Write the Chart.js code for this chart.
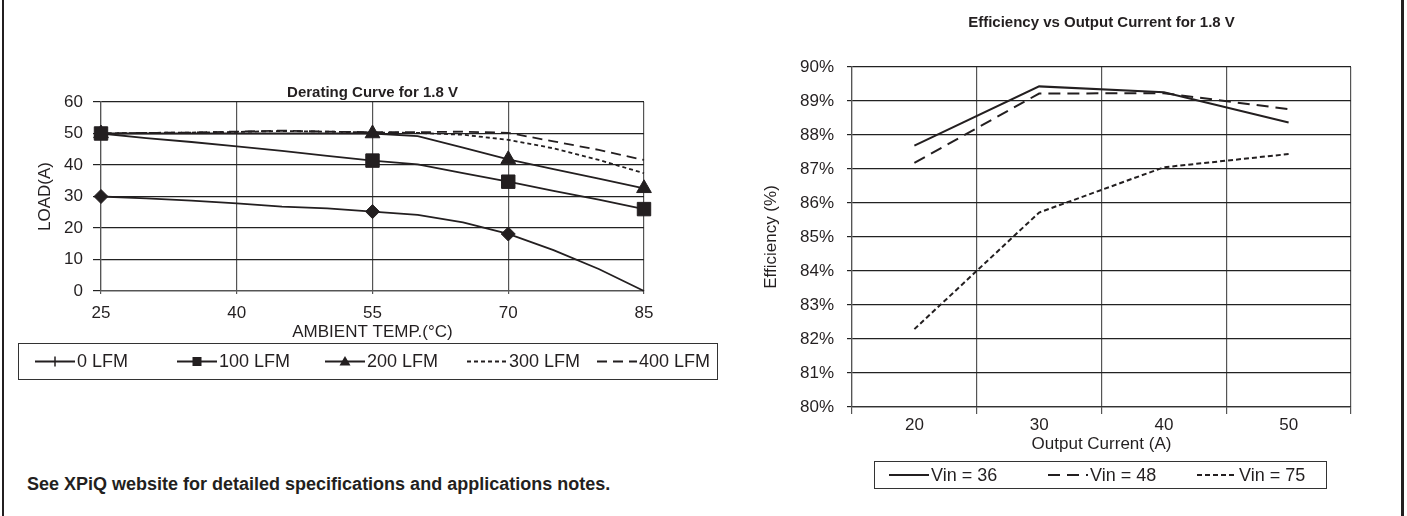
<!DOCTYPE html>
<html>
<head>
<meta charset="utf-8">
<title>Derating / Efficiency 1.8 V</title>
<script src="https://cdn.jsdelivr.net/npm/chart.js"></script>
<style>
  html, body { margin: 0; padding: 0; background: #fff; }
  body { width: 1407px; height: 516px; position: relative; overflow: hidden;
         font-family: "Liberation Sans", Arial, sans-serif; color: #231f20; }
  .rule { position: absolute; top: 0; height: 516px; background: #231f20; }
  #derating { position: absolute; left: 0; top: 0; }
  #efficiency { position: absolute; left: 745px; top: 0; }
  .note { position: absolute; left: 27px; top: 474px; font-weight: bold; font-size: 18px; }
</style>
</head>
<body>
<div class="rule" style="left:2px;width:2px"></div>
<div class="rule" style="left:1401px;width:3px"></div>
<canvas id="derating" width="745" height="400"></canvas>
<canvas id="efficiency" width="662" height="516"></canvas>
<div class="note">See XPiQ website for detailed specifications and applications notes.</div>

<script>
// --- derating curve data (load in A vs ambient temp in °C)
const tempsC = [25, 30, 35, 40, 45, 50, 55, 60, 65, 70, 75, 80, 85];
const lfm0   = [30, 29.4, 28.7, 27.8, 26.8, 26.2, 25.2, 24.2, 21.8, 18.1, 13, 7, 0];
const lfm100 = [50, 48.5, 47.3, 45.9, 44.5, 42.9, 41.4, 40.2, 37.4, 34.7, 31.8, 29, 26];
const lfm200 = [50, 50, 50, 50, 50, 50, 50, 49.2, 45.5, 41.8, 38.7, 35.7, 32.6];
const lfm300 = [50, 50.2, 50.3, 50.5, 50.8, 50.6, 50.3, 50.2, 49.6, 48, 45.3, 41.6, 37.4];
const lfm400 = [50, 50.2, 50.3, 50.6, 50.9, 50.6, 50.4, 50.4, 50.6, 50.2, 47.5, 44.8, 41.6];
const marks0   = [25, 55, 70];
const marks100 = [25, 55, 70, 85];
const marks200 = [25, 55, 70, 85];
const tempTicks = [25, 40, 55, 70, 85];

// --- efficiency data (% vs output current in A)
const currents = ['20', '30', '40', '50'];
const vin36 = [87.69, 89.43, 89.26, 88.37];
const vin48 = [87.18, 89.22, 89.23, 88.76];
const vin75 = [82.29, 85.72, 87.05, 87.44];

const ink = '#231f20';
Chart.defaults.font.family = '"Liberation Sans", Arial, sans-serif';
Chart.defaults.color = ink;

function pts(ys) {
    return tempsC.map((t, i) => ({ x: t, y: ys[i] }));
}

function markAt(list, r) {
    return ctx => (ctx.raw && list.includes(ctx.raw.x)) ? r : 0;
}

// small legend glyphs
function drawMark(ctx, kind, x, y) {
    ctx.fillStyle = ink;
    ctx.strokeStyle = ink;
    ctx.lineWidth = 1.5;
    ctx.beginPath();
    if (kind === 'tick') {
        ctx.moveTo(x, y - 5);
        ctx.lineTo(x, y + 5);
        ctx.stroke();
    } else if (kind === 'square') {
        ctx.fillRect(x - 4.5, y - 4.5, 9, 9);
    } else if (kind === 'triangle') {
        ctx.moveTo(x, y - 5.5);
        ctx.lineTo(x + 5.5, y + 4);
        ctx.lineTo(x - 5.5, y + 4);
        ctx.closePath();
        ctx.fill();
    }
}

// legend in a framed box, line sample + marker + label
const boxLegend = {
    id: 'boxLegend',
    afterDraw(chart, args, opts) {
        const ctx = chart.ctx;
        ctx.save();
        ctx.strokeStyle = '#333';
        ctx.lineWidth = 1;
        ctx.setLineDash([]);
        ctx.strokeRect(opts.x + 0.5, opts.y + 0.5, opts.w, opts.h);
        const cy = opts.y + opts.h / 2 + 0.5;
        chart.data.datasets.forEach((ds, i) => {
            const sx = opts.lineX[i];
            const ex = sx + opts.lineLen;
            ctx.setLineDash(ds.borderDash || []);
            ctx.lineWidth = ds.borderWidth;
            ctx.strokeStyle = ds.borderColor;
            ctx.beginPath();
            ctx.moveTo(sx, cy);
            ctx.lineTo(ex, cy);
            ctx.stroke();
            ctx.setLineDash([]);
            if (ds.legendMark) drawMark(ctx, ds.legendMark, (sx + ex) / 2, cy);
            ctx.fillStyle = ink;
            ctx.font = opts.font;
            ctx.textBaseline = 'middle';
            ctx.textAlign = 'left';
            ctx.fillText(ds.label, ex + 2, cy + 1);
        });
        ctx.restore();
    }
};

const lineBase = { borderColor: ink, borderWidth: 1.8, tension: 0, fill: false, clip: false,
                   pointBackgroundColor: ink, pointBorderColor: ink, pointBorderWidth: 1 };

new Chart(document.getElementById('derating'), {
    type: 'line',
    data: {
        datasets: [
            { ...lineBase, label: '0 LFM', data: pts(lfm0), pointStyle: 'rectRot', pointRadius: markAt(marks0, 7), legendMark: 'tick' },
            { ...lineBase, label: '100 LFM', data: pts(lfm100), pointStyle: 'rect', pointRadius: markAt(marks100, 9.5), legendMark: 'square' },
            { ...lineBase, label: '200 LFM', data: pts(lfm200), pointStyle: 'triangle', pointRadius: markAt(marks200, 8.5), legendMark: 'triangle' },
            { ...lineBase, label: '300 LFM', data: pts(lfm300), borderDash: [4, 3], pointRadius: 0 },
            { ...lineBase, label: '400 LFM', data: pts(lfm400), borderDash: [10, 6], pointRadius: 0 }
        ]
    },
    options: {
        responsive: false,
        animation: false,
        events: [],
        layout: { padding: { top: 84, left: 0, right: 101, bottom: 49 } },
        plugins: {
            legend: { display: false },
            tooltip: { enabled: false },
            title: {
                display: true, fullSize: false, text: 'Derating Curve for 1.8 V', color: ink,
                font: { size: 15, weight: 'bold' }, padding: { top: 0, bottom: 0 }
            },
            boxLegend: { x: 18, y: 343, w: 699, h: 36, lineX: [35, 177, 325, 467, 597], lineLen: 40, font: '18px "Liberation Sans", Arial, sans-serif' }
        },
        scales: {
            x: {
                type: 'linear', min: 25, max: 85,
                afterBuildTicks: s => { s.ticks = tempTicks.map(v => ({ value: v })); },
                afterFit: s => { s.height = 60; },
                ticks: { font: { size: 17 }, color: ink, padding: 9, maxRotation: 0 },
                grid: { color: '#555', lineWidth: 1.2, tickLength: 3 },
                border: { color: '#555', width: 1.2 },
                title: { display: true, text: 'AMBIENT TEMP.(°C)', color: ink, font: { size: 17 }, padding: { top: 0, bottom: 8 } }
            },
            y: {
                min: 0, max: 60,
                afterFit: s => { s.width = 101; },
                ticks: { stepSize: 10, font: { size: 17 }, color: ink, padding: 10 },
                grid: { color: '#222', lineWidth: 1.2, tickLength: 8 },
                border: { color: '#555', width: 1.2 },
                title: { display: true, text: 'LOAD(A)', color: ink, font: { size: 17 }, padding: { top: 35, bottom: 0 } }
            }
        }
    },
    plugins: [boxLegend]
});

new Chart(document.getElementById('efficiency'), {
    type: 'line',
    data: {
        labels: currents,
        datasets: [
            { ...lineBase, borderWidth: 2, label: 'Vin = 36', data: vin36, pointRadius: 0 },
            { ...lineBase, borderWidth: 2, label: 'Vin = 48', data: vin48, borderDash: [12, 7], pointRadius: 0 },
            { ...lineBase, borderWidth: 2, label: 'Vin = 75', data: vin75, borderDash: [5, 3], pointRadius: 0 }
        ]
    },
    options: {
        responsive: false,
        animation: false,
        events: [],
        layout: { padding: { top: 12, left: 0, right: 56, bottom: 61 } },
        plugins: {
            legend: { display: false },
            tooltip: { enabled: false },
            title: {
                display: true, fullSize: false, text: 'Efficiency vs Output Current for 1.8 V', color: ink,
                font: { size: 15, weight: 'bold' }, padding: { top: 2, bottom: 35 }
            },
            boxLegend: { x: 129, y: 461, w: 452, h: 27, lineX: [144, 303, 452], lineLen: 40, font: '18px "Liberation Sans", Arial, sans-serif' }
        },
        scales: {
            x: {
                type: 'category', offset: true,
                afterFit: s => { s.height = 48; },
                ticks: { font: { size: 17 }, color: ink, padding: 1, maxRotation: 0 },
                grid: { offset: true, color: ctx => ctx.index === currents.length ? '#aaa' : '#555', lineWidth: 1.2, tickLength: 7 },
                border: { color: '#333', width: 1.2 },
                title: { display: true, text: 'Output Current (A)', color: ink, font: { size: 17 }, padding: { top: 0, bottom: 0 } }
            },
            y: {
                min: 80, max: 90,
                afterFit: s => { s.width = 107; },
                ticks: { stepSize: 1, font: { size: 17 }, color: ink, padding: 13, callback: v => v + '%' },
                grid: { color: '#222', lineWidth: 1.2, tickLength: 5 },
                border: { color: '#555', width: 1.2 },
                title: { display: true, text: 'Efficiency (%)', color: ink, font: { size: 17 }, padding: { top: 16, bottom: 0 } }
            }
        }
    },
    plugins: [boxLegend]
});
</script>
</body>
</html>
